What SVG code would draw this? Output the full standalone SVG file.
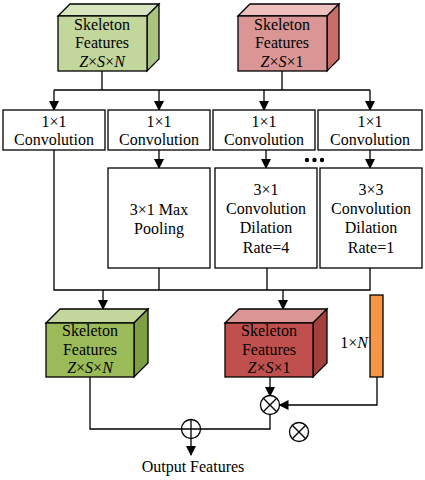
<svg xmlns="http://www.w3.org/2000/svg" width="425" height="480" viewBox="0 0 425 480">
<defs>
<marker id="ah" markerWidth="10" markerHeight="10" refX="9" refY="5" orient="auto" markerUnits="userSpaceOnUse">
<path d="M0,0 L10,5 L0,10 Z" fill="#000"/>
</marker>
<style>
.t{font-family:"Liberation Serif","Times New Roman",serif;font-size:16px;fill:#000;text-anchor:middle}
.i{font-style:italic}
.b{fill:#fff;stroke:#000;stroke-width:1.3}
.f{stroke:#000;stroke-width:1.3;stroke-linejoin:miter}
.c{fill:none;stroke:#000;stroke-width:1.3}
</style>
</defs>
<rect width="425" height="480" fill="#fff"/>

<g id="connectors">
<path class="c" d="M102,71 V90"/>
<path class="c" d="M282,71 V90"/>
<path class="c" d="M54,90 H370"/>
<path class="c" d="M54,90 V110" marker-end="url(#ah)"/>
<path class="c" d="M159,90 V110" marker-end="url(#ah)"/>
<path class="c" d="M264,90 V110" marker-end="url(#ah)"/>
<path class="c" d="M370,90 V110" marker-end="url(#ah)"/>
<path class="c" d="M159,150 V168" marker-end="url(#ah)"/>
<path class="c" d="M266,150 V168" marker-end="url(#ah)"/>
<path class="c" d="M370,150 V168" marker-end="url(#ah)"/>
<path class="c" d="M54,150 V290 H370 V268"/>
<path class="c" d="M159,268 V290"/>
<path class="c" d="M267,268 V290"/>
<path class="c" d="M103,290 V309" marker-end="url(#ah)"/>
<path class="c" d="M283,290 V309" marker-end="url(#ah)"/>
<path class="c" d="M270,377 V396" marker-end="url(#ah)"/>
<path class="c" d="M377,377 V405 H279.5" marker-end="url(#ah)"/>
<path class="c" d="M90,377 V429 H182"/>
<path class="c" d="M270,414 V429 H200"/>
<path class="c" d="M191,438.5 V455" marker-end="url(#ah)"/>
</g>

<g id="dots" fill="#000">
<circle cx="307" cy="160" r="2.2"/>
<circle cx="314.5" cy="160" r="2.2"/>
<circle cx="322" cy="160" r="2.2"/>
</g>

<g id="cube-top-green">
<polygon class="f" points="58,16 70,4 159,4 147,16" fill="#d7e4bd"/>
<polygon class="f" points="147,16 159,4 159,59 147,71" fill="#a9c47f"/>
<rect class="f" x="58" y="16" width="89" height="55" fill="#c3d69b"/>
<text class="t" x="102" y="30">Skeleton</text>
<text class="t" x="102" y="48">Features</text>
<text class="t" x="102" y="67"><tspan class="i">Z</tspan>×<tspan class="i">S</tspan>×<tspan class="i">N</tspan></text>
</g>

<g id="cube-top-red">
<polygon class="f" points="238,16 250,4 339,4 327,16" fill="#eec0bd"/>
<polygon class="f" points="327,16 339,4 339,59 327,71" fill="#c96d68"/>
<rect class="f" x="238" y="16" width="89" height="55" fill="#d99694"/>
<text class="t" x="282" y="30">Skeleton</text>
<text class="t" x="282" y="48">Features</text>
<text class="t" x="282" y="67"><tspan class="i">Z</tspan>×<tspan class="i">S</tspan>×1</text>
</g>

<g id="conv1">
<rect class="b" x="3" y="110" width="102" height="40"/>
<text class="t" x="54" y="127">1×1</text>
<text class="t" x="54" y="145">Convolution</text>
</g>
<g id="conv2">
<rect class="b" x="108" y="110" width="102" height="40"/>
<text class="t" x="159" y="127">1×1</text>
<text class="t" x="159" y="145">Convolution</text>
</g>
<g id="conv3">
<rect class="b" x="213" y="110" width="102" height="40"/>
<text class="t" x="264" y="127">1×1</text>
<text class="t" x="264" y="145">Convolution</text>
</g>
<g id="conv4">
<rect class="b" x="318" y="110" width="104" height="40"/>
<text class="t" x="370" y="127">1×1</text>
<text class="t" x="370" y="145">Convolution</text>
</g>

<g id="maxpool">
<rect class="b" x="108" y="168" width="102" height="100"/>
<text class="t" x="159" y="215">3×1 Max</text>
<text class="t" x="159" y="234">Pooling</text>
</g>
<g id="dil4">
<rect class="b" x="215" y="168" width="102" height="100"/>
<text class="t" x="266" y="195">3×1</text>
<text class="t" x="266" y="214">Convolution</text>
<text class="t" x="266" y="233">Dilation</text>
<text class="t" x="266" y="253">Rate=4</text>
</g>
<g id="dil1">
<rect class="b" x="320" y="168" width="102" height="100"/>
<text class="t" x="371" y="195">3×3</text>
<text class="t" x="371" y="214">Convolution</text>
<text class="t" x="371" y="233">Dilation</text>
<text class="t" x="371" y="253">Rate=1</text>
</g>

<g id="cube-bottom-green">
<polygon class="f" points="46,323 60,309 148,309 134,323" fill="#c3d69b"/>
<polygon class="f" points="134,323 148,309 148,363 134,377" fill="#7f9f45"/>
<rect class="f" x="46" y="323" width="88" height="54" fill="#9bbb59"/>
<text class="t" x="90" y="336">Skeleton</text>
<text class="t" x="90" y="355">Features</text>
<text class="t" x="90" y="373"><tspan class="i">Z</tspan>×<tspan class="i">S</tspan>×<tspan class="i">N</tspan></text>
</g>

<g id="cube-bottom-red">
<polygon class="f" points="225,323 239,309 327,309 313,323" fill="#d99694"/>
<polygon class="f" points="313,323 327,309 327,363 313,377" fill="#a3403d"/>
<rect class="f" x="225" y="323" width="88" height="54" fill="#c0504d"/>
<text class="t" x="269" y="336">Skeleton</text>
<text class="t" x="269" y="355">Features</text>
<text class="t" x="269" y="373"><tspan class="i">Z</tspan>×<tspan class="i">S</tspan>×1</text>
</g>

<g id="vector">
<rect class="f" x="370" y="295" width="13" height="82" fill="#f79646"/>
<text class="t" x="354" y="348">1×<tspan class="i">N</tspan></text>
</g>

<g id="mult">
<circle class="b" cx="270" cy="405" r="9.5"/>
<path class="c" d="M263.3,398.3 L276.7,411.7 M276.7,398.3 L263.3,411.7"/>
</g>
<g id="add">
<circle class="b" cx="191" cy="429" r="9.5"/>
<path class="c" d="M181.5,429 H200.5 M191,419.5 V438.5"/>
</g>
<g id="mult-legend">
<circle class="b" cx="299" cy="432" r="9.5"/>
<path class="c" d="M292.3,425.3 L305.7,438.7 M305.7,425.3 L292.3,438.7"/>
</g>
<g id="output">
<text class="t" x="193" y="472">Output Features</text>
</g>
</svg>
